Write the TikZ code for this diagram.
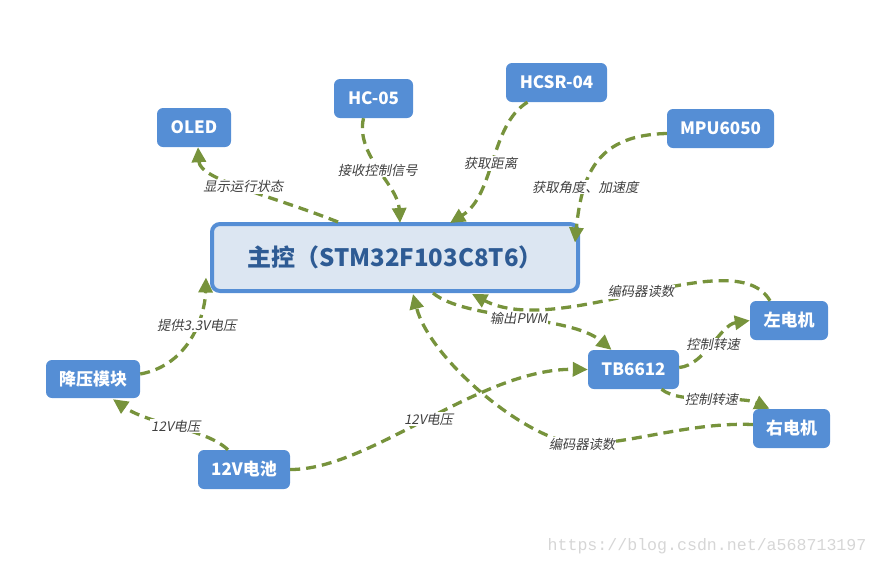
\documentclass[tikz,border=0pt]{standalone}
\usepackage{fontspec}
\setmainfont{Noto Sans CJK SC}
\newfontfamily\lblfont{Noto Sans CJK SC}[FakeSlant=0.2]
\newfontfamily\wmfont{Liberation Mono}
\usetikzlibrary{arrows.meta,calc}
\definecolor{nodeblue}{HTML}{558ED5}
\definecolor{mainfill}{HTML}{DCE6F2}
\definecolor{maintext}{HTML}{2E5B94}
\definecolor{edgegreen}{HTML}{77933C}
\definecolor{lbltext}{HTML}{404040}
\definecolor{wm}{HTML}{D6D6D6}
\begin{document}
\begin{tikzpicture}[x=1pt,y=-1pt,
 box/.style={rectangle,rounded corners=6pt,fill=nodeblue,text=white,font=\fontsize{17}{19}\selectfont\bfseries,minimum height=39pt,inner xsep=0pt},
 mainbox/.style={rectangle,rounded corners=8pt,draw=nodeblue,line width=4pt,fill=mainfill,text=maintext,font=\fontsize{24}{28}\selectfont\bfseries,minimum width=366pt,minimum height=67pt},
 conn/.style={draw=edgegreen,line width=3.3pt,dash pattern=on 10pt off 6pt,-{Triangle[length=15pt,width=14pt]}},
 lbl/.style={fill=white,text=lbltext,font=\lblfont\fontsize{13.3}{15}\selectfont,inner sep=1pt}
]
\useasboundingbox (0,0) rectangle (878,566);

\node[mainbox] (main) at (395,257.5) {主控（STM32F103C8T6）};
\node[box,minimum width=74pt] (oled) at (194,127.5) {OLED};
\node[box,minimum width=79pt] (hc) at (373.5,98.5) {HC-05};
\node[box,minimum width=101pt] (hcsr) at (556.5,82.5) {HCSR-04};
\node[box,minimum width=107pt] (mpu) at (720.5,128.5) {MPU6050};
\node[box,minimum width=94pt,minimum height=38pt] (buck) at (93,379) {降压模块};
\node[box,minimum width=92pt] (bat) at (244,469.5) {12V电池};
\node[box,minimum width=91pt] (tb) at (633.5,369.5) {TB6612};
\node[box,minimum width=78pt] (lm) at (789,320.5) {左电机};
\node[box,minimum width=77pt] (rm) at (791.5,428.5) {右电机};

\draw[conn] ($(main.north)+(-57,0)$) .. controls (270,195) and (200,180) .. ($(oled.south)+(4,0)$) node[lbl,pos=0.5]{显示运行状态};
\draw[conn] ($(hc.south)+(-10,0)$) .. controls (355,155) and (398,185) .. ($(main.north)+(5,1)$) node[lbl,pos=0.5]{接收控制信号};
\draw[conn] ($(hcsr.south)+(-29,0)$) .. controls (490,125) and (495,195) .. ($(main.north)+(55,1)$) node[lbl,pos=0.52]{获取距离};
\draw[conn] ($(mpu.west)+(0,5)$) .. controls (600,135) and (582,170) .. ($(main.east)+(-5,-15)$) node[lbl,pos=0.7]{获取角度、加速度};
\draw[conn] ($(buck.east)+(0,-5)$) .. controls (190,365) and (205,315) .. ($(main.west)+(-4,20)$) node[lbl,pos=0.6]{提供3.3V电压};
\draw[conn] ($(bat.north)+(-16,0)$) .. controls (205,428) and (150,425) .. ($(buck.south)+(20,1)$) node[lbl,pos=0.5]{12V电压};
\draw[conn] (bat.east) .. controls (370,470) and (480,368) .. (tb.west) node[lbl,pos=0.5]{12V电压};
\draw[conn] ($(main.south)+(38,0)$) .. controls (465,320) and (570,315) .. ($(tb.north)+(-22,0)$) node[lbl,pos=0.5]{输出PWM};
\draw[conn] ($(tb.east)+(0,-2)$) .. controls (705,365) and (720,325) .. (lm.west) node[lbl,pos=0.5]{控制转速};
\draw[conn] ($(tb.south)+(28,0)$) .. controls (680,405) and (740,395) .. ($(rm.north)+(-22,0)$) node[lbl,pos=0.5]{控制转速};
\draw[conn] ($(lm.north)+(-19,0)$) .. controls (735,240) and (560,340) .. ($(main.south)+(77,1)$) node[lbl,pos=0.5]{编码器读数};
\draw[conn] ($(rm.west)+(0,-4)$) .. controls (690,422) and (630,444) .. (582,444) node[lbl]{编码器读数} .. controls (530,444) and (430,360) .. ($(main.south)+(18,1)$);

\node[text=wm,font=\wmfont\fontsize{16.6}{18}\selectfont] (wmk) at (707,546) {https://blog.csdn.net/a568713197};
\end{tikzpicture}
\end{document}
